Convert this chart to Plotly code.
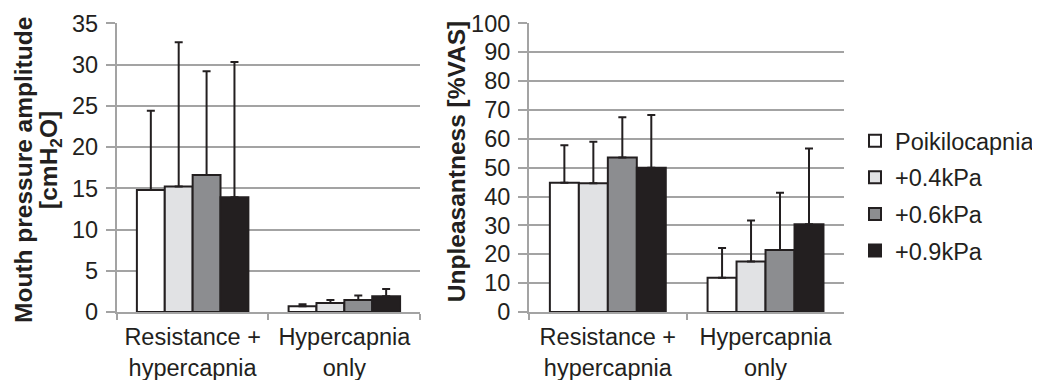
import plotly.graph_objects as go

categories = ["Resistance +<br>hypercapnia", "Hypercapnia<br>only"]
series_names = ["Poikilocapnia", "+0.4kPa", "+0.6kPa", "+0.9kPa"]
series_colors = ["#ffffff", "#e1e2e4", "#8c8d90", "#231f20"]

# Mouth pressure amplitude [cmH2O]: means and SD (upward error)
mouth_mean = [[14.8, 0.7], [15.2, 1.1], [16.6, 1.45], [13.9, 1.9]]
mouth_err = [[9.6, 0.25], [17.5, 0.35], [12.6, 0.55], [16.4, 0.9]]

# Unpleasantness [%VAS]
unpl_mean = [[44.8, 11.9], [44.6, 17.5], [53.5, 21.5], [50.0, 30.4]]
unpl_err = [[13.0, 10.3], [14.4, 14.2], [14.0, 19.8], [18.2, 26.2]]

left_ticks = [0, 5, 10, 15, 20, 25, 30, 35]
right_ticks = [0, 10, 20, 30, 40, 50, 60, 70, 80, 90, 100]

INK = "#231f20"
GRID = "#a3a3a3"
FONT = "Liberation Sans, Arial, sans-serif"
# page has an 8px body margin; figure sized to fit the 1040x380 window
W, H = 1032, 372
OFF = 8


def px_x(p):
    return (p - OFF) / W


def px_y(p):
    return 1 - (p - OFF) / H


fig = go.Figure()
for i, name in enumerate(series_names):
    for ax, means, errs in (("", mouth_mean, mouth_err), ("2", unpl_mean, unpl_err)):
        fig.add_trace(go.Bar(
            x=categories, y=means[i], name=name,
            xaxis="x" + ax, yaxis="y" + ax,
            legendgroup=name, showlegend=(ax == ""),
            marker=dict(color=series_colors[i], line=dict(color=INK, width=2)),
            error_y=dict(type="data", symmetric=False, array=errs[i],
                         arrayminus=[0, 0], color=INK, thickness=2, width=4),
        ))

ydom = [px_y(312), px_y(23.3)]
xax_common = dict(type="category", tickson="boundaries", ticks="outside", ticklen=6,
                  tickcolor=GRID, tickwidth=2, showline=True, linecolor=GRID, linewidth=2,
                  tickfont=dict(family=FONT, size=23.5, color=INK), showgrid=False,
                  automargin=False, ticklabelstandoff=3)
yax_common = dict(showgrid=True, gridcolor=GRID, gridwidth=2, showline=True, linecolor=GRID,
                  linewidth=2, ticks="outside", ticklen=9, tickcolor=GRID, tickwidth=2,
                  zeroline=False, tickfont=dict(family=FONT, size=23.5, color=INK),
                  automargin=False, domain=ydom, ticklabelstandoff=3)

fig.update_layout(
    width=W, height=H,
    margin=dict(l=0, r=0, t=0, b=0),
    paper_bgcolor="white", plot_bgcolor="white",
    barmode="group", bargap=0.265, bargroupgap=0,
    font=dict(family=FONT, size=23.5, color=INK),
    xaxis=dict(domain=[px_x(117), px_x(421)], anchor="y", **xax_common),
    xaxis2=dict(domain=[px_x(530), px_x(846)], anchor="y2", **xax_common),
    yaxis=dict(range=[0, 35], tickvals=left_ticks, anchor="x", **yax_common),
    yaxis2=dict(range=[0, 100], tickvals=right_ticks, anchor="x2", **yax_common),
    legend=dict(x=px_x(857), y=px_y(119), xanchor="left", yanchor="top",
                font=dict(family=FONT, size=23.5, color=INK),
                tracegroupgap=3, bgcolor="rgba(0,0,0,0)"),
    annotations=[
        dict(text="<b>Mouth pressure amplitude</b>",
             textangle=-90, x=px_x(23), y=px_y(170), xref="paper", yref="paper",
             xanchor="center", yanchor="middle",
             showarrow=False, font=dict(family=FONT, size=24.5, color=INK)),
        dict(text="<b>[cmH<sub>2</sub>O]</b>",
             textangle=-90, x=px_x(50), y=px_y(160), xref="paper", yref="paper",
             xanchor="center", yanchor="middle",
             showarrow=False, font=dict(family=FONT, size=24.5, color=INK)),
        dict(text="<b>Unpleasantness [%VAS]</b>",
             textangle=-90, x=px_x(457), y=px_y(162), xref="paper", yref="paper",
             xanchor="center", yanchor="middle",
             showarrow=False, font=dict(family=FONT, size=24.5, color=INK)),
    ],
)

fig.write_html("out.html")
